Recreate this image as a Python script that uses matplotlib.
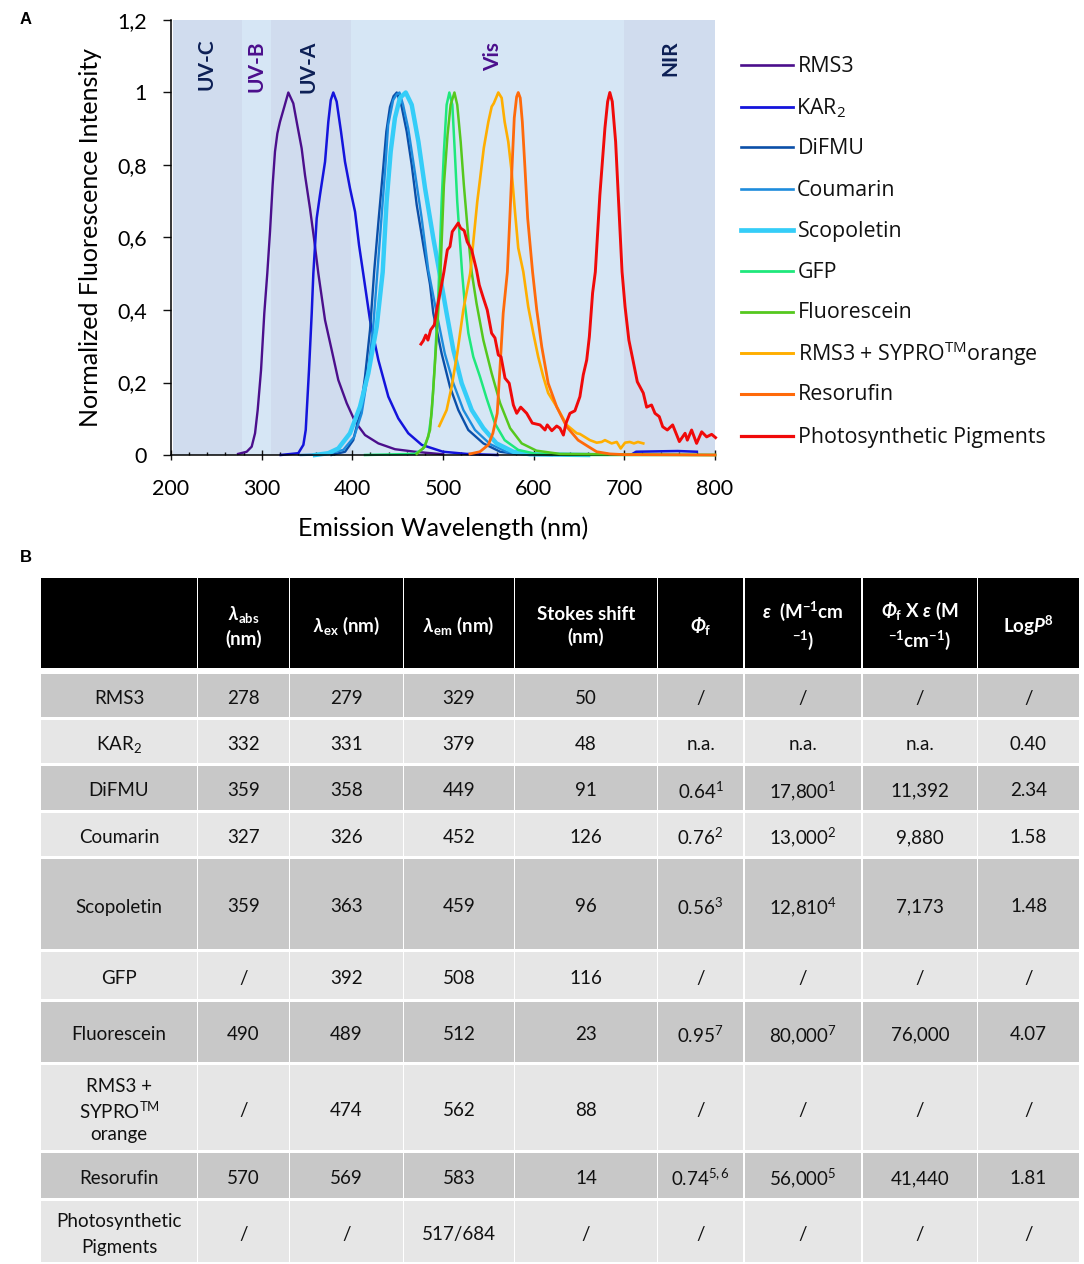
import matplotlib
matplotlib.use("Agg")
import matplotlib.pyplot as plt
from matplotlib.patches import Rectangle
from matplotlib.ticker import MultipleLocator, FuncFormatter

plt.rcParams['font.family'] = ['Lato', 'DejaVu Sans']
plt.rcParams['mathtext.fontset'] = 'custom'
plt.rcParams['mathtext.rm'] = 'Lato'
plt.rcParams['mathtext.it'] = 'Lato:italic'
plt.rcParams['mathtext.bf'] = 'Lato:bold'
plt.rcParams['mathtext.bfit'] = 'Lato:italic:bold'
plt.rcParams['mathtext.fallback'] = 'stixsans'
plt.rcParams['mathtext.default'] = 'regular'

# spectra
rms3_x = [274, 283.5, 289, 292.7, 295.6, 299.3, 302.9, 306.2, 309.2, 312.1, 314.7, 317.3, 320.2, 325, 329.4, 334.9, 339.3, 344.1, 347.8, 353.3, 357.7, 362.5, 369.9, 377.2, 384.5, 393.8, 403, 414, 428.7, 447, 469, 500]
rms3_y = [.003, .009, .023, .06, .124, .234, .391, .501, .616, .745, .837, .887, .919, .961, 1, .97, .91, .846, .772, .68, .598, .501, .372, .29, .207, .143, .092, .055, .032, .016, .009, .002]
kar2_x = [321, 340.4, 346, 348.6, 352.2, 355.2, 357, 360.7, 364.3, 369.9, 373.5, 376.2, 379, 382.7, 387.5, 391.9, 397.4, 403, 407.4, 412, 419.5, 428.7, 439.7, 450.7, 461.7, 476.5, 500, 526, 560]
kar2_y = [0, .005, .028, .069, .234, .391, .501, .653, .717, .809, .919, .979, 1, .975, .892, .809, .736, .671, .579, .501, .372, .262, .161, .101, .06, .028, .009, .003, 0]
kar2_tail_x = [707, 713, 735, 759, 780]
kar2_tail_y = [0, .009, .01, .011, .009]
difmu_x = [377, 392, 401, 408.4, 414, 419.5, 424.2, 429, 434, 437.5, 441.5, 445.5, 449, 454.4, 460, 465.5, 471, 478.3, 485.7, 489.3, 498.5, 507.7, 516.9, 527.9, 544.5, 563, 581, 620]
difmu_y = [0, .009, .041, .115, .216, .345, .51, .65, .79, .892, .96, .99, 1, .961, .892, .8, .69, .579, .47, .391, .28, .188, .124, .069, .032, .009, .003, 0]
coumarin_x = [343, 370, 390, 402, 410.3, 416.8, 423, 427.5, 432, 436.3, 439.5, 445, 449, 452, 456, 461.7, 469, 476.5, 483.8, 493, 502, 511.4, 522.5, 535.3, 552, 570, 589, 640]
coumarin_y = [0, .002, .014, .05, .115, .216, .354, .5, .65, .79, .91, .979, .995, 1, .966, .9, .78, .653, .51, .391, .28, .198, .124, .069, .03, .009, .002, 0]
scopoletin_x = [358.8, 373.5, 384.5, 397.4, 408.4, 417.6, 426.9, 433.5, 437.8, 442.3, 447, 452.5, 458.9, 465.5, 472.9, 480.2, 489.3, 496, 504, 511.4, 520.6, 531.7, 544.5, 559, 577.6, 596, 660]
scopoletin_y = [0, .005, .018, .06, .133, .225, .354, .505, .699, .837, .93, .985, 1, .966, .864, .736, .598, .505, .391, .29, .198, .124, .074, .032, .009, .002, 0]
gfp_x = [414, 469, 478.3, 483.8, 487.5, 491, 495, 498.5, 501, 504, 507, 510.3, 513, 515.7, 521, 524, 528, 533.4, 540.8, 548, 557.3, 568, 583, 603, 640, 800]
gfp_y = [0, .003, .018, .05, .115, .253, .45, .699, .837, .966, 1, .966, .837, .699, .505, .418, .336, .271, .216, .157, .087, .041, .014, .003, 0, 0]
fluorescein_x = [471, 480, 485.7, 489, 493, 497, 501, 505, 508.4, 512.6, 515.7, 519.5, 523, 528, 531.6, 537, 544.5, 553.6, 563, 574, 586.8, 603, 629, 800]
fluorescein_y = [.003, .023, .069, .171, .326, .49, .745, .883, .966, 1, .966, .864, .745, .598, .505, .418, .317, .226, .143, .074, .032, .012, .003, 0]
sypro_x = [495.9, 504, 509.5, 515.7, 522.4, 530, 537.8, 541, 545, 550, 553.7, 556, 561, 564.7, 568, 572, 575.7, 579.4, 583, 588.6, 594, 599.6, 605, 610.6, 616, 625.4, 636.4, 647.5, 651, 662, 669.5, 675, 678.6, 686, 691.6, 696, 700.8, 706, 710.6, 715, 720.9]
sypro_y = [.08, .124, .188, .28, .4, .501, .699, .764, .847, .919, .961, .97, 1, .985, .919, .864, .782, .671, .571, .505, .409, .336, .271, .216, .171, .133, .083, .06, .058, .041, .034, .036, .041, .032, .036, .018, .034, .036, .032, .036, .032]
resorufin_x = [529.7, 540.7, 550, 555, 559.8, 562.7, 566.4, 571, 574, 576.4, 578.6, 581.2, 583, 585.2, 587.5, 590.4, 593.4, 598.8, 603.4, 608.9, 616, 625.4, 636.4, 649, 660.4, 669.5, 684, 700, 800]
resorufin_y = [.003, .009, .028, .06, .115, .234, .391, .505, .671, .809, .93, .988, 1, .985, .919, .792, .653, .505, .4, .299, .198, .133, .078, .041, .023, .009, .003, .001, 0]
pigments_x = [475.7, 478.2, 481, 483.4, 486.4, 490.4, 493.7, 497.4, 501, 504.8, 507.7, 510.2, 513, 516.8, 519.4, 523.4, 526.7, 531.6, 537, 540, 544.5, 548.8, 553.6, 557.3, 561, 564, 568.4, 573, 577.6, 581.3, 585.7, 592.3, 598.5, 607, 612.5, 615, 620, 625.4, 629, 632.8, 635.7, 640, 645.5, 651, 654.7, 658.5, 661.4, 665, 668, 673, 678.6, 681.6, 684, 686.7, 690.4, 693.3, 697.5, 700.8, 705, 709, 714.3, 720.9, 724.6, 730, 733.8, 738.5, 742.3, 747.4, 753.3, 760.7, 767, 769.5, 774.2, 779.7, 785.3, 790.8, 796.3, 800.6]
pigments_y = [.306, .315, .331, .317, .345, .359, .409, .455, .505, .566, .575, .616, .626, .64, .626, .619, .588, .566, .51, .469, .433, .4, .336, .323, .276, .271, .212, .198, .138, .115, .132, .115, .088, .083, .069, .083, .067, .08, .074, .055, .088, .115, .122, .161, .221, .262, .326, .447, .505, .717, .902, .975, 1, .975, .864, .717, .505, .409, .317, .268, .202, .171, .132, .138, .115, .106, .078, .069, .083, .037, .06, .041, .069, .032, .064, .05, .057, .048]

series_names = ['RMS3', 'KAR$_2$', 'DiFMU', 'Coumarin', 'Scopoletin', 'GFP', 'Fluorescein',
                'RMS3 + SYPRO$^{TM}$orange', 'Resorufin', 'Photosynthetic Pigments']
series_x = [rms3_x, kar2_x, difmu_x, coumarin_x, scopoletin_x, gfp_x, fluorescein_x, sypro_x, resorufin_x, pigments_x]
series_y = [rms3_y, kar2_y, difmu_y, coumarin_y, scopoletin_y, gfp_y, fluorescein_y, sypro_y, resorufin_y, pigments_y]
series_colors = ['#4B0F8C', '#1414DC', '#0B4FA8', '#1E8CDC', '#35CDF8', '#1FE87C', '#55C81E', '#FFAE00', '#FF6A0A', '#F00A0A']
series_widths = [1.7, 1.8, 1.7, 1.7, 3.2, 1.8, 1.8, 1.9, 2.0, 2.1]

band_edges = [200, 278, 310, 399, 700, 800]
band_colors = ['#D0DCEE', '#D6E6F5', '#D0DCEE', '#D6E6F5', '#D0DCEE']

# table contents
col_headers = ['', r'$\mathbfit{\lambda}_{\mathbf{abs}}$' + '\n(nm)', r'$\mathbfit{\lambda}_{\mathbf{ex}}$ (nm)',
               r'$\mathbfit{\lambda}_{\mathbf{em}}$ (nm)', 'Stokes shift\n(nm)', r'$\mathbfit{\Phi}_{\mathbf{f}}$',
               r'$\mathbfit{\varepsilon}$  (M$^{\mathbf{-1}}$cm' + '\n' + r'$^{\mathbf{-1}}$)',
               r'$\mathbfit{\Phi}_{\mathbf{f}}$ X $\mathbfit{\varepsilon}$ (M' + '\n' + r'$^{\mathbf{-1}}$cm$^{\mathbf{-1}}$)',
               r'Log$\mathbfit{P}^{\mathbf{8}}$']
row_names = ['RMS3', 'KAR$_2$', 'DiFMU', 'Coumarin', 'Scopoletin', 'GFP', 'Fluorescein',
             'RMS3 +\nSYPRO$^{TM}$\norange', 'Resorufin', 'Photosynthetic\nPigments']
lambda_abs = ['278', '332', '359', '327', '359', '/', '490', '/', '570', '/']
lambda_ex = ['279', '331', '358', '326', '363', '392', '489', '474', '569', '/']
lambda_em = ['329', '379', '449', '452', '459', '508', '512', '562', '583', '517/684']
stokes = ['50', '48', '91', '126', '96', '116', '23', '88', '14', '/']
phi_f = ['/', 'n.a.', '0.64$^1$', '0.76$^2$', '0.56$^3$', '/', '0.95$^7$', '/', '0.74$^{5,6}$', '/']
epsilon = ['/', 'n.a.', '17,800$^1$', '13,000$^2$', '12,810$^4$', '/', '80,000$^7$', '/', '56,000$^5$', '/']
brightness = ['/', 'n.a.', '11,392', '9,880', '7,173', '/', '76,000', '/', '41,440', '/']
log_p = ['/', '0.40', '2.34', '1.58', '1.48', '/', '4.07', '/', '1.81', '/']
table_cols = [row_names, lambda_abs, lambda_ex, lambda_em, stokes, phi_f, epsilon, brightness, log_p]

# layout in pixels of the page
W, H = 1084, 1264
col_left = [41, 198, 290, 404, 515, 658, 745, 863, 978]
col_right = [197, 289, 403, 514, 657, 743, 861, 977, 1079]
row_top = [674, 720, 766, 813, 859, 952, 1002, 1065, 1153, 1201]
row_bottom = [717, 763, 810, 856, 949, 999, 1062, 1150, 1198, 1262]
legend_y = [65, 107, 147, 189, 230, 271, 312, 353, 394, 436]
legend_text_x = [798, 796, 798, 797, 798, 798, 798, 798, 798, 798]

fig = plt.figure(figsize=(W / 100, H / 100), dpi=100)

page = fig.add_axes([0, 0, 1, 1])
page.set_xlim(0, W)
page.set_ylim(H, 0)
page.axis('off')
page.set_zorder(5)

ax = fig.add_axes([171 / W, 1 - 455 / H, (715 - 171) / W, (455 - 20) / H])
ax.patch.set_visible(False)
for i in range(5):
    ax.axvspan(band_edges[i] + (2 if i == 0 else 0), band_edges[i + 1], color=band_colors[i], lw=0, zorder=0)
for i in range(10):
    ax.plot(series_x[i], series_y[i], color=series_colors[i], lw=series_widths[i], clip_on=False,
            solid_joinstyle='round', zorder=2 + i * 0.1)
ax.plot(kar2_tail_x, kar2_tail_y, color=series_colors[1], lw=series_widths[1], zorder=2.1)
ax.set_xlim(200, 800)
ax.set_ylim(0, 1.2)
ax.xaxis.set_major_locator(MultipleLocator(100))
ax.xaxis.set_minor_locator(MultipleLocator(20))
ax.yaxis.set_major_locator(MultipleLocator(0.2))
ax.yaxis.set_major_formatter(FuncFormatter(lambda v, p: '0' if v < 0.01 else ('1' if abs(v - 1) < 0.01 else f'{v:.1f}'.replace('.', ','))))
ax.tick_params(axis='x', which='major', direction='inout', length=6.5, width=1, labelsize=15.5, pad=14, color='#111111')
ax.tick_params(axis='x', which='minor', direction='in', length=2.5, width=1, color='#111111')
ax.tick_params(axis='y', which='major', direction='out', length=6, width=1, labelsize=15.5, pad=11.5, color='#111111')
for side in ['top', 'right']:
    ax.spines[side].set_visible(False)
for side in ['left', 'bottom']:
    ax.spines[side].set_linewidth(1.1)
ax.set_xlabel('Emission Wavelength (nm)', fontsize=18, labelpad=12.5)
ax.set_ylabel('Normalized Fluorescence Intensity', fontsize=18, labelpad=11)

# band names
for txt, x, y, c in [('UV-C', 206, 90, '#0C1F55'), ('UV-B', 256, 92, '#4B0F8C'), ('UV-A', 308, 93, '#0C1F55'),
                     ('Vis', 493, 71, '#4B0F8C'), ('NIR', 670, 76, '#0C1F55')]:
    page.text(x, y, txt, rotation=90, ha='center', va='bottom', fontsize=15, fontweight='bold', color=c)

page.text(20, 19, 'A', fontsize=12, fontweight='bold', family='Liberation Sans', va='center')
page.text(20, 558, 'B', fontsize=12, fontweight='bold', family='Liberation Sans', va='center')

# legend drawn by hand, the spacing in the picture is uneven
for i in range(10):
    page.plot([741, 793], [legend_y[i], legend_y[i]], color=series_colors[i], lw=series_widths[i] + 0.2)
    page.text(legend_text_x[i], legend_y[i] + 1, series_names[i], fontsize=15.4, va='center', color='#111111',
              family=['Open Sans', 'DejaVu Sans'])

# table
for j in range(9):
    page.add_patch(Rectangle((col_left[j], 578), col_right[j] - col_left[j], 90, color='black', lw=0))
    page.text((col_left[j] + col_right[j]) / 2, 626, col_headers[j], color='white', ha='center', va='center',
              fontsize=13.5, fontweight='bold', linespacing=1.35)
    for i in range(10):
        shade = '#C8C8C8' if i % 2 == 0 else '#E6E6E6'
        page.add_patch(Rectangle((col_left[j], row_top[i]), col_right[j] - col_left[j], row_bottom[i] - row_top[i], color=shade, lw=0))
        txt = table_cols[j][i]
        page.text((col_left[j] + col_right[j]) / 2, (row_top[i] + row_bottom[i]) / 2 + 3, txt, ha='center', va='center',
                  fontsize=13.5, color='#111111', linespacing=1.3 if '$' in txt else 1.6)

fig.savefig('out.png', dpi=100)
